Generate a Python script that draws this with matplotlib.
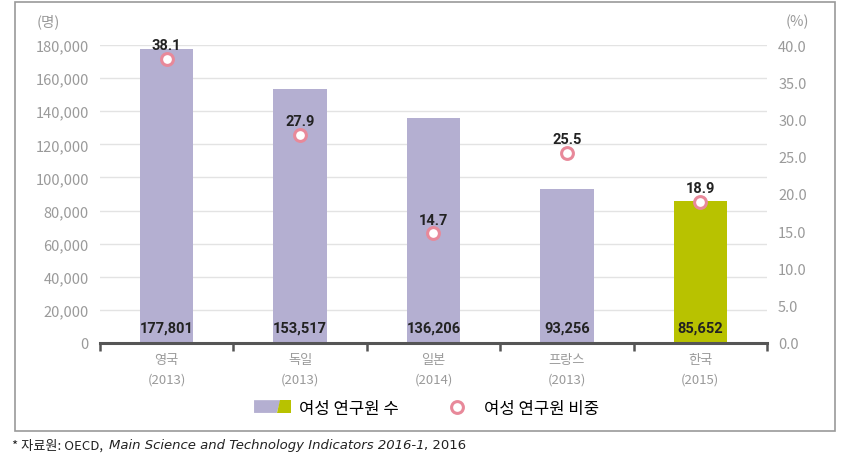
import matplotlib.pyplot as plt
from matplotlib.patches import Rectangle, Polygon
from matplotlib.lines import Line2D
from matplotlib.legend_handler import HandlerBase
from matplotlib.ticker import FuncFormatter

plt.rcParams['font.family'] = ['Noto Sans CJK KR', 'DejaVu Sans']

countries = ['영국', '독일', '일본', '프랑스', '한국']
years = ['(2013)', '(2013)', '(2014)', '(2013)', '(2015)']
researchers = [177801, 153517, 136206, 93256, 85652]
share = [38.1, 27.9, 14.7, 25.5, 18.9]

PURPLE = '#b4afd1'
GREEN = '#b8c200'
PINK = '#e8899a'
GRAY = '#9a9a9a'
NUM_FONT = ['Roboto', 'DejaVu Sans']


class SplitPatchHandler(HandlerBase):
    def create_artists(self, legend, orig_handle, xd, yd, w, h, fontsize, trans):
        left = Polygon([[xd, yd], [xd + w * 0.62, yd], [xd + w * 0.72, yd + h], [xd, yd + h]],
                       closed=True, facecolor=PURPLE, edgecolor='none', transform=trans)
        right = Polygon([[xd + w * 0.62, yd], [xd + w, yd], [xd + w, yd + h], [xd + w * 0.72, yd + h]],
                        closed=True, facecolor=GREEN, edgecolor='none', transform=trans)
        return [left, right]


fig = plt.figure(figsize=(8.53, 4.6), dpi=100)
ax = fig.add_axes([0.1172, 0.2522, 0.782, 0.6478])
ax2 = ax.twinx()

x = list(range(len(countries)))
colors = [PURPLE] * (len(countries) - 1) + [GREEN]
bars = ax.bar(x, researchers, width=0.4, color=colors, zorder=2)
ax.set_xlim(-0.5, len(countries) - 0.5)
ax.set_ylim(0, 180000)
ax.set_yticks(range(0, 180001, 20000))
ax.yaxis.set_major_formatter(FuncFormatter(lambda v, p: f'{int(v):,}'))
ax.grid(axis='y', color='#e3e3e3', linewidth=1, zorder=0)
ax.set_axisbelow(True)

for b, v in zip(bars, researchers):
    ax.text(b.get_x() + b.get_width() / 2, 9500, f'{v:,}', ha='center', va='center',
            fontsize=10.5, fontweight='bold', color='#222222', family=NUM_FONT, zorder=3)

ax2.set_ylim(0, 40)
ax2.set_yticks([i * 5 for i in range(9)])
ax2.yaxis.set_major_formatter(FuncFormatter(lambda v, p: f'{v:.1f}'))
ax2.plot(x, share, linestyle='none', marker='o', markersize=8.5, markerfacecolor='white',
         markeredgecolor=PINK, markeredgewidth=2.2, zorder=4)
for xi, s in zip(x, share):
    ax2.text(xi, s + 0.9, f'{s}', ha='center', va='bottom', fontsize=10.5, fontweight='bold',
             color='#222222', family=NUM_FONT)

for a in (ax, ax2):
    for sp in ('top', 'left', 'right', 'bottom'):
        a.spines[sp].set_visible(False)
    a.tick_params(axis='y', length=0, labelsize=10.5, labelcolor=GRAY, pad=8)

# bottom axis line with category boundary ticks
ax.axhline(0, color='#555555', linewidth=2.2, zorder=5, clip_on=False)
ax.set_xticks([i - 0.5 for i in range(len(countries) + 1)])
ax.set_xticklabels([])
ax.tick_params(axis='x', length=6, width=1.8, color='#555555', direction='out')
for xi, c, y in zip(x, countries, years):
    ax.text(xi, -0.035, c, transform=ax.get_xaxis_transform(), ha='center', va='top',
            fontsize=9.5, color=GRAY)
    ax.text(xi, -0.1, y, transform=ax.get_xaxis_transform(), ha='center', va='top',
            fontsize=9.5, color=GRAY)

fig.text(48 / 853, 1 - 22 / 460, '(명)', ha='center', va='center', fontsize=10.5, color=GRAY)
fig.text(797 / 853, 1 - 22 / 460, '(%)', ha='center', va='center', fontsize=10.5, color=GRAY)

bar_handle = Rectangle((0, 0), 1, 1)
dot_handle = Line2D([], [], linestyle='none', marker='o', markersize=8.5, markerfacecolor='white',
                    markeredgecolor=PINK, markeredgewidth=2.2)
fig.legend([bar_handle, dot_handle], ['여성 연구원 수', '여성 연구원 비중'],
           handler_map={Rectangle: SplitPatchHandler()}, loc='center',
           bbox_to_anchor=(0.5, 1 - 410 / 460), ncol=2, frameon=False, fontsize=12,
           handlelength=2.2, handleheight=0.8, columnspacing=2.4, handletextpad=0.5)

fig.patches.append(Rectangle((15 / 853, 1 - 432 / 460), 820 / 853, 429 / 460,
                             transform=fig.transFigure, fill=False, edgecolor='#999999',
                             linewidth=1.2))

# footnote, pieces placed one after another
renderer = fig.canvas.get_renderer()
xpos = 12 / 853
ypos = 1 - 446 / 460
pieces = [('* 자료원: OECD,', 'normal', ['Noto Sans CJK KR', 'DejaVu Sans'], 6),
          ('Main Science and Technology Indicators 2016-1', 'italic', ['DejaVu Sans'], 0),
          (', 2016', 'normal', ['DejaVu Sans'], 0)]
for txt, st, fam, gap in pieces:
    t = fig.text(xpos, ypos, txt, ha='left', va='center', fontsize=9.5, style=st,
                 color='#222222', family=fam)
    bb = t.get_window_extent(renderer=renderer)
    xpos += (bb.width + gap) / fig.bbox.width

fig.savefig('out.png', dpi=100)
